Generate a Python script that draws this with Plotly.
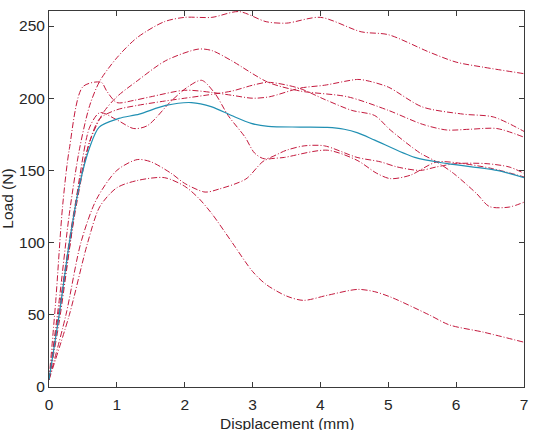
import plotly.graph_objects as go

# ---- data (displacement mm, load N) ----
c1_x = [0, 0.15, 0.3, 0.45, 0.6, 0.75, 1.0, 1.3, 1.7, 2.0, 2.4, 2.8, 3.2, 3.5, 4.0, 4.6, 5.0, 5.6, 6.0, 6.4, 7.0]
c1_y = [5, 60, 120, 165, 195, 212, 228, 242, 253, 256, 256, 260, 253, 252, 256, 246, 244, 232, 225, 221.5, 217]

c2_x = [0, 0.2, 0.4, 0.6, 0.8, 1.0, 1.3, 1.72, 2.2, 2.4, 2.69, 3.23, 3.7, 4.4, 5.0, 5.5, 5.86, 6.2, 6.6, 7.0]
c2_y = [5, 70, 130, 170, 190, 201, 212, 226, 234, 233, 226, 211, 205, 201, 191.6, 182, 178, 178.5, 179, 173]

c3_x = [0, 0.15, 0.3, 0.45, 0.6, 0.75, 1.0, 1.25, 1.45, 1.8, 2.05, 2.25, 2.45, 2.64, 2.89, 3.03, 3.18, 3.5, 3.76, 4.06, 4.54, 4.88, 5.13, 5.47, 5.71, 6.0, 6.44, 6.78, 7.0]
c3_y = [5, 45, 95, 145, 180, 190, 185, 179, 181, 198, 208, 212.4, 203, 188, 173, 162, 158, 164, 167, 167, 159, 156, 152.4, 150, 152.4, 154.7, 154.7, 152.4, 148]

c4_x = [0, 0.1, 0.2, 0.3, 0.5, 0.77, 0.85, 1.0, 1.25, 1.5, 2.0, 2.4, 2.7, 3.0, 3.25, 3.7, 4.06, 4.55, 4.7, 5.0, 5.5, 6.1, 6.55, 7.0]
c4_y = [5, 60, 125, 165, 208, 211, 205, 197, 198.5, 201, 205.5, 204, 202, 200, 201, 207, 209, 213, 212, 207.7, 194, 189, 187, 177]

c5_x = [0, 0.2, 0.4, 0.6, 0.75, 1.0, 1.3, 1.7, 2.0, 2.3, 2.7, 3.0, 3.23, 3.68, 4.07, 4.46, 4.8, 5.03, 5.47, 5.71, 5.96, 6.3, 6.49, 6.78, 7.0]
c5_y = [5, 65, 125, 170, 186, 192, 195, 198, 200, 202, 205, 209, 211, 207, 199, 191.6, 188, 178, 162, 156, 148, 134, 125, 124.6, 128]

c6_x = [0, 0.25, 0.47, 0.7, 1.0, 1.3, 1.5, 1.8, 2.0, 2.3, 2.5, 2.9, 3.18, 3.47, 4.1, 4.54, 4.83, 5.03, 5.32, 5.71, 6.1, 6.54, 7.0]
c6_y = [5, 50, 100, 130, 150, 157.5, 156, 148, 141, 135, 137, 144, 157, 159, 164, 157, 148, 144.3, 146.6, 155.8, 154.7, 151.2, 145.5]

c7_x = [0, 0.3, 0.57, 0.75, 1.0, 1.3, 1.7, 2.0, 2.2, 2.4, 2.7, 3.0, 3.2, 3.5, 3.75, 4.1, 4.55, 4.8, 5.05, 5.6, 5.9, 6.4, 7.0]
c7_y = [5, 50, 100, 125, 138, 143, 145, 139, 131, 120, 100, 80, 71, 63, 60, 63.5, 67.6, 66, 62, 50, 43, 38, 31]

mean_x = [0, 0.15, 0.3, 0.45, 0.6, 0.74, 1.03, 1.33, 1.72, 2.1, 2.4, 2.69, 2.98, 3.23, 3.7, 4.1, 4.35, 4.55, 4.8, 5.39, 5.87, 6.6, 7.0]
mean_y = [5, 50, 100, 140, 166, 180, 186, 189, 195, 197, 194, 188, 182.6, 180.5, 180, 179.8, 178.5, 176, 171, 159, 154.7, 150, 145]

x_ticks = [0, 1, 2, 3, 4, 5, 6, 7]
y_ticks = [0, 50, 100, 150, 200, 250]

red = "#c41a3e"
blue = "#2190b3"
dashdot = "6px,2px,1px,2px"
font_family = "Liberation Sans, Arial, sans-serif"
text_color = "#262626"

fig = go.Figure()
for xs, ys in [(c1_x, c1_y), (c2_x, c2_y), (c3_x, c3_y), (c4_x, c4_y),
               (c5_x, c5_y), (c6_x, c6_y), (c7_x, c7_y)]:
    fig.add_trace(go.Scatter(x=xs, y=ys, mode="lines",
                             line=dict(color=red, width=1, dash=dashdot, shape="spline", smoothing=0.8),
                             showlegend=False, hoverinfo="skip"))
fig.add_trace(go.Scatter(x=mean_x, y=mean_y, mode="lines",
                         line=dict(color=blue, width=1.2, shape="spline", smoothing=0.8),
                         showlegend=False, hoverinfo="skip"))

axis_common = dict(showline=True, linecolor="#3a3a3a", linewidth=1, mirror="ticks",
                   ticks="inside", ticklen=5, tickcolor="#3a3a3a", showgrid=False,
                   zeroline=False, tickfont=dict(family=font_family, size=15.5, color=text_color))

fig.update_layout(
    width=538, height=430,
    margin=dict(l=49, r=10, t=11, b=43),
    paper_bgcolor="white", plot_bgcolor="white",
    xaxis=dict(range=[0, 7], tickvals=x_ticks, ticklabelstandoff=3, **axis_common),
    yaxis=dict(range=[0, 260.4], tickvals=y_ticks, **axis_common),
    annotations=[
        dict(text="Displacement (mm)", xref="paper", yref="paper", x=0.5, y=-0.097,
             xanchor="center", yanchor="middle", showarrow=False,
             font=dict(family=font_family, size=15.5, color=text_color)),
        dict(text="Load (N)", xref="paper", yref="paper", x=-0.089, y=0.5, textangle=-90,
             xanchor="center", yanchor="middle", showarrow=False,
             font=dict(family=font_family, size=15.5, color=text_color)),
    ],
)

fig.write_html("out.html")
